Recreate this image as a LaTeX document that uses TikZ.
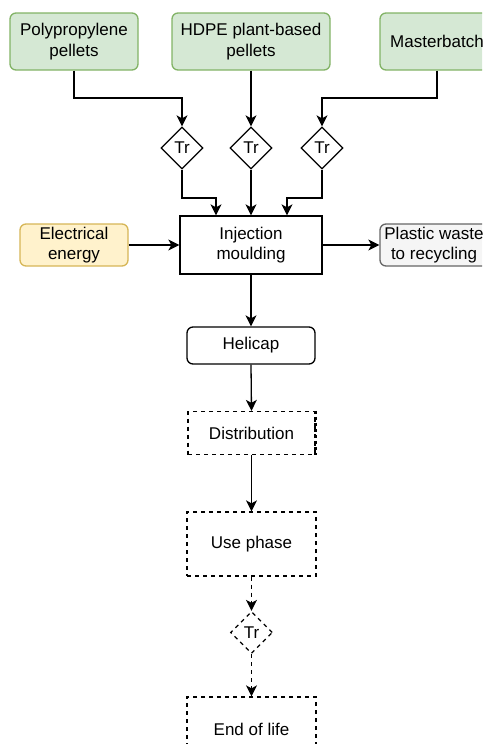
\documentclass[tikz,border=0pt]{standalone}
\usepackage{fontspec}
\setmainfont{Liberation Sans}
\usetikzlibrary{shapes.geometric,arrows.meta,calc}
\definecolor{gfill}{HTML}{D5E8D4}
\definecolor{gline}{HTML}{82B366}
\definecolor{yfill}{HTML}{FFF2CC}
\definecolor{yline}{HTML}{D6B656}
\definecolor{wfill}{HTML}{F5F5F5}
\definecolor{wline}{HTML}{666666}
\tikzset{
  base/.style={draw, line width=1.3pt, align=center, inner sep=0pt,
    font=\fontsize{17}{20.5}\selectfont},
  greenbox/.style={base, draw=gline, fill=gfill, rounded corners=6pt},
  yellowbox/.style={base, draw=yline, fill=yfill, rounded corners=6pt},
  graybox/.style={base, draw=wline, fill=wfill, rounded corners=6pt},
  procbox/.style={base, draw=black},
  roundbox/.style={base, draw=black, rounded corners=6pt},
  dbox/.style={base, draw=black, dash pattern=on 4pt off 4pt},
  trdia/.style={base, diamond, minimum width=42pt, minimum height=42pt},
  arr/.style={line width=1.3pt, -{Stealth[length=11pt,width=11pt,inset=3pt]}},
  darr/.style={arr, dash pattern=on 4pt off 4pt},
}
\begin{document}
\begin{tikzpicture}[x=1pt,y=-1pt]
\useasboundingbox (0,0) rectangle (482,744);
\clip (0,0) rectangle (482,744);
\node[greenbox, minimum width=128pt, minimum height=57pt] (pp) at (74,41.5) {Polypropylene\\pellets};
\node[greenbox, minimum width=158pt, minimum height=57pt] (hdpe) at (251,41.5) {HDPE plant-based\\pellets};
\node[greenbox, minimum width=114pt, minimum height=57pt] (mb) at (437,41.5) {Masterbatch};
\node[trdia] (tr1) at (182,148) {Tr};
\node[trdia] (tr2) at (251,148) {Tr};
\node[trdia] (tr3) at (322,148) {Tr};
\node[procbox, minimum width=142pt, minimum height=58pt] (inj) at (251,245) {Injection\\moulding};
\node[yellowbox, minimum width=108pt, minimum height=42pt] (elec) at (74,245) {Electrical\\energy};
\node[graybox, minimum width=108pt, minimum height=42pt] (waste) at (434,245) {Plastic waste\\to recycling};
\node[roundbox, minimum width=128pt, minimum height=37pt] (heli) at (251,345.5) {Helicap};
\node[dbox, minimum width=127pt, minimum height=43pt] (dist) at (251.5,433) {Distribution};
\draw[line width=2.8pt, dash pattern=on 3pt off 3pt] (dist.north east) -- (dist.south east);
\node[dbox, minimum width=129pt, minimum height=64pt] (use) at (251.5,544) {Use phase};
\node[trdia, dash pattern=on 4pt off 4pt] (trd) at (251.5,632.5) {Tr};
\node[dbox, minimum width=129pt, minimum height=64pt] (eol) at (251.5,729) {End of life};
\coordinate (r1) at (0,98);
\coordinate (r2) at (0,198);
\draw[arr] (pp.south) |- (tr1.north |- r1) -- (tr1.north);
\draw[arr] (hdpe.south) -- (tr2.north);
\draw[arr] (mb.south) |- (tr3.north |- r1) -- (tr3.north);
\draw[arr] (tr1.south) |- ([xshift=-35pt]inj.north |- r2) -- ([xshift=-35pt]inj.north);
\draw[arr] (tr2.south) -- (tr2.south |- inj.north);
\draw[arr] (tr3.south) |- ([xshift=36pt]inj.north |- r2) -- ([xshift=36pt]inj.north);
\draw[arr] (elec.east) -- (inj.west);
\draw[arr] (inj.east) -- (waste.west);
\draw[arr] (inj.south) -- (heli.north);
\draw[arr] (heli.south) -- (dist.north);
\draw[arr] (dist.south) -- (use.north);
\draw[darr] (use.south) -- (trd.north);
\draw[darr] (trd.south) -- (eol.north);
\end{tikzpicture}
\end{document}
